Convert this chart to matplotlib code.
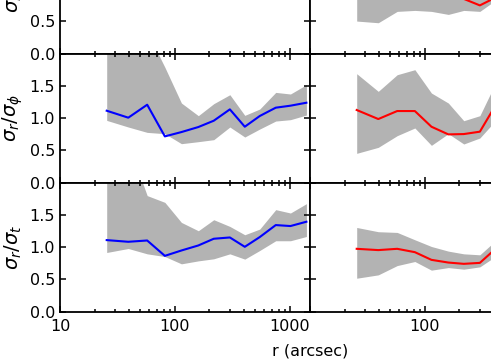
import numpy as np
import matplotlib
matplotlib.use('Agg')
import matplotlib.pyplot as plt
from matplotlib.ticker import FuncFormatter, NullFormatter

# radii of the bins (arcsec)
r = [25.5, 39.3, 57.4, 81.8, 114, 160, 218, 301, 406, 548, 755, 1014, 1396]
r_right = r[:9]

# left column (blue), sigma_r/sigma_phi
left_rphi = [1.116, 1.008, 1.209, 0.718, 0.785, 0.863, 0.961, 1.137, 0.868, 1.034, 1.163, 1.194, 1.240]
left_rphi_up = [3.0, 2.8, 2.34, 1.79, 1.235, 1.039, 1.225, 1.364, 1.044, 1.142, 1.40, 1.375, 1.519]
left_rphi_lo = [0.966, 0.863, 0.78, 0.76, 0.605, 0.636, 0.667, 0.863, 0.708, 0.832, 0.956, 0.977, 1.049]

# left column (blue), sigma_r/sigma_t
left_rt = [1.110, 1.084, 1.104, 0.866, 0.949, 1.027, 1.131, 1.151, 1.006, 1.157, 1.343, 1.328, 1.395]
left_rt_up = [3.0, 2.61, 1.80, 1.695, 1.384, 1.255, 1.426, 1.322, 1.193, 1.281, 1.582, 1.530, 1.675]
left_rt_lo = [0.918, 0.98, 0.897, 0.855, 0.742, 0.788, 0.82, 0.897, 0.815, 0.949, 1.10, 1.10, 1.166]

# right column (red), sigma_r/sigma_theta (mostly above the crop)
right_rth = [1.05, 1.0, 0.98, 0.95, 0.92, 0.9, 0.85, 0.749, 0.865]
right_rth_up = [1.6, 1.5, 1.5, 1.45, 1.4, 1.35, 1.3, 1.25, 1.3]
right_rth_lo = [0.506, 0.48, 0.656, 0.671, 0.656, 0.609, 0.671, 0.656, 0.82]

# right column (red), sigma_r/sigma_phi
right_rphi = [1.127, 0.987, 1.111, 1.111, 0.868, 0.749, 0.754, 0.791, 1.18]
right_rphi_up = [1.69, 1.416, 1.674, 1.752, 1.39, 1.235, 0.961, 1.039, 1.52]
right_rphi_lo = [0.455, 0.548, 0.729, 0.848, 0.579, 0.76, 0.6, 0.693, 0.95]

# right column (red), sigma_r/sigma_t
right_rt = [0.975, 0.955, 0.975, 0.923, 0.804, 0.762, 0.742, 0.757, 0.965]
right_rt_up = [1.306, 1.24, 1.229, 1.115, 1.011, 0.939, 0.897, 0.882, 1.09]
right_rt_lo = [0.519, 0.571, 0.715, 0.778, 0.644, 0.684, 0.659, 0.695, 0.85]

ylabels = [r'$\sigma_r/\sigma_\theta$', r'$\sigma_r/\sigma_\phi$', r'$\sigma_r/\sigma_t$']

plt.rcParams['font.size'] = 11.5
plt.rcParams['axes.linewidth'] = 1.3

fig = plt.figure(figsize=(4.91, 3.6), dpi=100)

x0_left = 60 / 491
x0_right = 310 / 491
w = 250 / 491
h = 129 / 360
y0_rows = [48.3 / 360 + 2 * h, 48.3 / 360 + h, 48.3 / 360]  # top, middle, bottom

panels = [
    # (row, col, x, y, lo, up, color)
    (0, 1, r_right, right_rth, right_rth_lo, right_rth_up, 'r'),
    (1, 0, r, left_rphi, left_rphi_lo, left_rphi_up, 'b'),
    (1, 1, r_right, right_rphi, right_rphi_lo, right_rphi_up, 'r'),
    (2, 0, r, left_rt, left_rt_lo, left_rt_up, 'b'),
    (2, 1, r_right, right_rt, right_rt_lo, right_rt_up, 'r'),
]

axes = {}
for row in range(3):
    for col in range(2):
        x0 = x0_left if col == 0 else x0_right
        ax = fig.add_axes([x0, y0_rows[row], w, h])
        ax.set_xscale('log')
        ax.set_xlim(10, 1500)
        ax.set_ylim(0, 2)
        ax.set_yticks([0, 0.5, 1.0, 1.5, 2.0])
        ax.tick_params(which='both', direction='in', top=True, right=True, width=1.1)
        ax.tick_params(which='major', length=4)
        ax.tick_params(which='minor', length=2)
        ax.tick_params(axis='x', which='major', pad=5)
        if col == 0:
            ax.set_yticklabels(['0.0', '0.5', '1.0', '1.5', ''])
        else:
            ax.set_yticklabels([])
        if row == 2:
            if col == 0:
                ax.xaxis.set_major_formatter(FuncFormatter(lambda v, p: '%d' % v))
            else:
                ax.xaxis.set_major_formatter(FuncFormatter(lambda v, p: '%d' % v if 11 < v < 500 else ''))
        else:
            ax.xaxis.set_major_formatter(NullFormatter())
        ax.xaxis.set_minor_formatter(NullFormatter())
        axes[(row, col)] = ax

for row, col, x, y, lo, up, c in panels:
    ax = axes[(row, col)]
    ax.fill_between(x, lo, up, color='0.7', linewidth=0)
    ax.plot(x, y, color=c, linewidth=1.5)

for row in range(3):
    fig.text(13 / 491, y0_rows[row] + h / 2, ylabels[row], rotation=90,
             ha='center', va='center', fontsize=14)

fig.text(310 / 491, 9.5 / 360, 'r (arcsec)', ha='center', va='center')

plt.savefig('out.png', dpi=100)
